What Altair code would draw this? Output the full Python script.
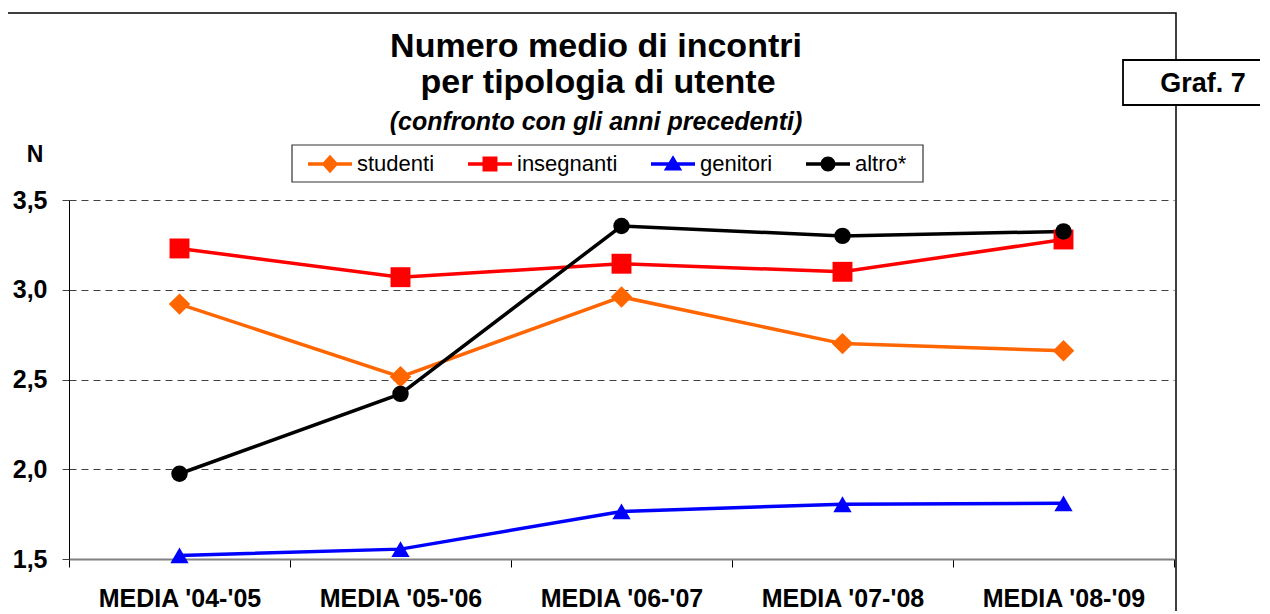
import altair as alt
import pandas as pd

periodi = ["MEDIA '04-'05", "MEDIA '05-'06", "MEDIA '06-'07", "MEDIA '07-'08", "MEDIA '08-'09"]
serie = ["studenti", "insegnanti", "genitori", "altro*"]
studenti = [2.92, 2.515, 2.96, 2.70, 2.66]
insegnanti = [3.23, 3.07, 3.145, 3.10, 3.28]
genitori = [1.52, 1.555, 1.765, 1.805, 1.81]
altro = [1.975, 2.42, 3.355, 3.30, 3.325]
colori = ["#FF6600", "#FF0000", "#0000FF", "#000000"]
y_ticks = [1.5, 2.0, 2.5, 3.0, 3.5]

rows = []
for nome, vals in zip(serie, [studenti, insegnanti, genitori, altro]):
    for p, v in zip(periodi, vals):
        rows.append({"periodo": p, "serie": nome, "valore": v})
df = pd.DataFrame(rows)

FONT = "Liberation Sans"
W, H = 1105, 359

x_enc = alt.X("periodo:N", sort=periodi,
              scale=alt.Scale(type="band", paddingInner=0, paddingOuter=0),
              axis=alt.Axis(title=None, labelAngle=0, labelFont=FONT, labelFontSize=25,
                            labelFontWeight="bold", labelColor="black", labelPadding=39,
                            labelBaseline="alphabetic", tickBand="extent", tickSize=8,
                            tickColor="black", domainColor="#808080", domainWidth=2,
                            grid=False, labelOverlap=False))
y_enc = alt.Y("valore:Q", scale=alt.Scale(domain=[1.5, 3.5], nice=False, zero=False),
              axis=alt.Axis(title=None, values=y_ticks,
                            labelExpr="replace(format(datum.value, '.1f'), '.', ',')",
                            labelFont=FONT, labelFontSize=25, labelFontWeight="bold",
                            labelColor="black", labelPadding=15, tickSize=7,
                            tickColor="#404040", domainColor="black", domainWidth=1,
                            grid=True, gridColor="#404040", gridDash=[7, 5], gridWidth=1))

color_scale = alt.Scale(domain=serie, range=colori)

lines = alt.Chart(df).mark_line(strokeWidth=3.5).encode(
    x=x_enc, y=y_enc,
    color=alt.Color("serie:N", scale=color_scale, legend=None),
    detail="serie:N",
)

points = alt.Chart(df).mark_point(filled=True, opacity=1).encode(
    x=x_enc, y=y_enc,
    color=alt.Color("serie:N", scale=color_scale, legend=None),
    shape=alt.Shape("serie:N", scale=alt.Scale(domain=serie,
                    range=["diamond", "square", "triangle-up", "circle"]), legend=None),
    size=alt.Size("serie:O", scale=alt.Scale(domain=serie, range=[460, 270, 470, 300]),
                  legend=None),
)

bar = "M-1,-0.075L1,-0.075L1,0.075L-1,0.075Z "
leg_paths = [
    bar + "M0,-0.42L0.38,0L0,0.42L-0.38,0Z",
    bar + "M-0.34,-0.34L0.34,-0.34L0.34,0.34L-0.34,0.34Z",
    bar + "M0,-0.4L0.42,0.3L-0.42,0.3Z",
    bar + "M-0.34,0A0.34,0.34 0 1,1 0.34,0A0.34,0.34 0 1,1 -0.34,0Z",
]
leg = alt.Legend(orient="none", legendX=239, legendY=-58, direction="horizontal",
                 columns=4, title=None, labelFont=FONT, labelFontSize=22,
                 labelColor="black", symbolSize=1936, symbolStrokeWidth=0,
                 symbolOpacity=1, columnPadding=33, labelOffset=5, padding=0)
legend_layer = alt.Chart(df).mark_point(filled=True, opacity=0).encode(
    x=x_enc, y=y_enc,
    color=alt.Color("serie:N", scale=color_scale, legend=leg),
    shape=alt.Shape("serie:N", scale=alt.Scale(domain=serie, range=leg_paths), legend=leg),
)

one = pd.DataFrame({"k": [0]})

frame = alt.Chart(one).mark_rect(fill="white", fillOpacity=0, stroke="black",
                                 strokeWidth=1.5).encode(
    x=alt.value(-62), x2=alt.value(1107), y=alt.value(-187), y2=alt.value(430))

legend_box = alt.Chart(one).mark_rect(fill="white", stroke="#333333",
                                      strokeWidth=1.2).encode(
    x=alt.value(223), x2=alt.value(854), y=alt.value(-55), y2=alt.value(-18))

graf_box = alt.Chart(one).mark_rect(fill="white", stroke="black", strokeWidth=1.8).encode(
    x=alt.value(1054), x2=alt.value(1230), y=alt.value(-140), y2=alt.value(-95))

def txt(s, x, y, size, weight="bold", style="normal"):
    return alt.Chart(one).mark_text(text=s, font=FONT, fontSize=size, fontWeight=weight,
                                    fontStyle=style, align="center", baseline="alphabetic",
                                    color="black").encode(x=alt.value(x), y=alt.value(y))

title1 = txt("Numero medio di incontri", 527, -143, 34)
title2 = txt("per tipologia di utente", 529, -107, 34)
title3 = txt("(confronto con gli anni precedenti)", 527, -70, 25, style="italic")
n_lab = txt("N", -34, -38, 23)
graf_txt = txt("Graf. 7", 1134, -108, 27)

chart = alt.layer(
    frame, legend_box, graf_box, title1, title2, title3, n_lab, graf_txt,
    lines, points, legend_layer
).resolve_scale(color="independent", shape="independent").properties(
    width=W, height=H,
    autosize=alt.AutoSizeParams(type="none"),
    padding={"left": 61, "top": 192, "right": 86, "bottom": 52},
    background="white",
).configure_view(stroke=None)

chart.save("out.html", embed_options={"renderer": "svg", "actions": False})
